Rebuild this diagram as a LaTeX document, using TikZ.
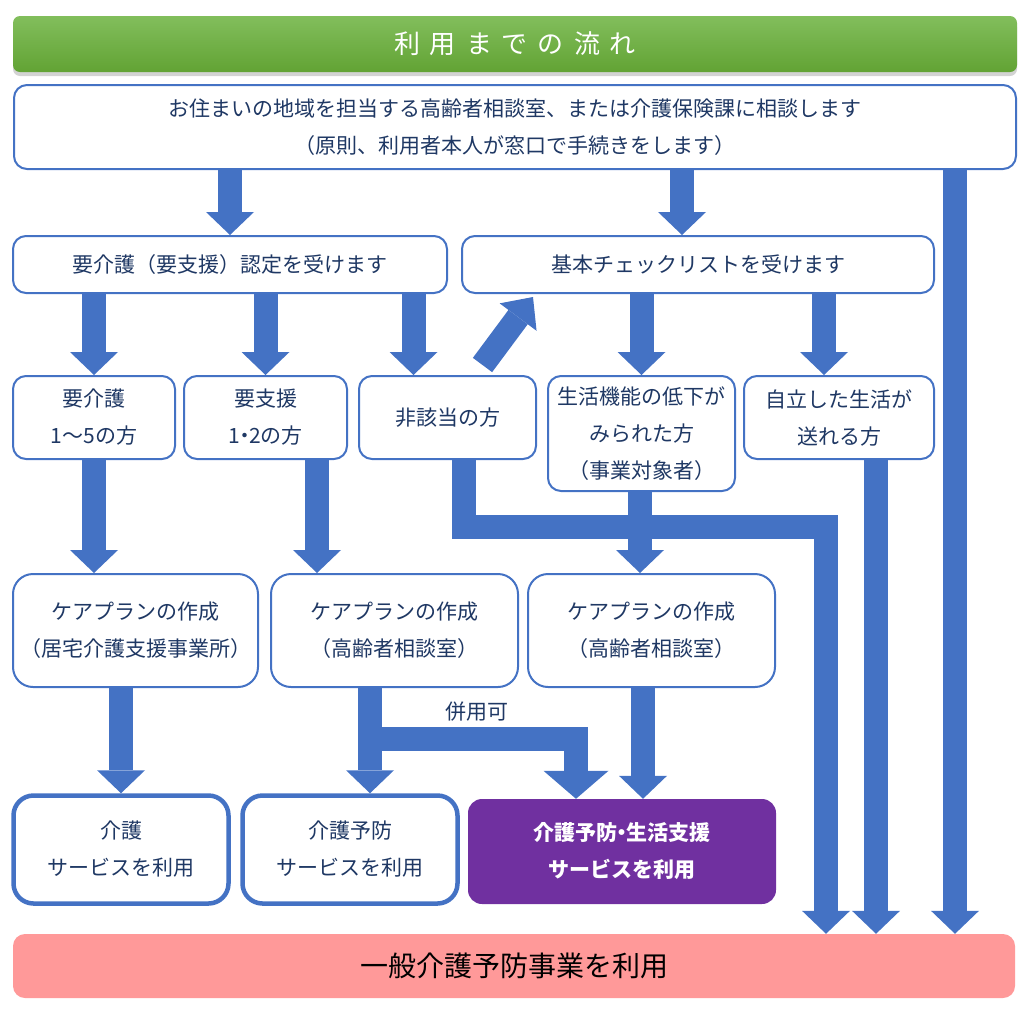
\documentclass[tikz,border=0pt]{standalone}
\usepackage{fontspec}
\setmainfont{Noto Sans CJK JP}
\usepackage{tikz}
\usetikzlibrary{arrows.meta,shadows}
\definecolor{flowblue}{RGB}{68,114,196}
\definecolor{textnavy}{RGB}{31,56,100}
\definecolor{titlegreentop}{RGB}{130,190,92}
\definecolor{titlegreenbot}{RGB}{98,163,52}
\definecolor{servicepurple}{RGB}{112,48,160}
\definecolor{generalpink}{RGB}{255,153,153}
\newcommand{\tgap}{\hspace{10pt}}
\newcommand{\tightdot}{\kern-6pt・\kern-6pt}

\begin{document}
\begin{tikzpicture}[x=1pt,y=-1pt,
  every node/.style={inner sep=0pt,align=center,text=textnavy,font=\fontsize{21}{37}\selectfont},
  titlebar/.style={rounded corners=7pt,top color=titlegreentop,bottom color=titlegreenbot,text=white,
    font=\fontsize{26}{30}\selectfont,drop shadow={shadow xshift=0pt,shadow yshift=-4pt,opacity=.35}},
  flowbox/.style={draw=flowblue,line width=2pt,fill=white,rounded corners=13pt},
  planbox/.style={flowbox,rounded corners=20pt},
  usebox/.style={draw=flowblue,line width=4.5pt,fill=white,rounded corners=20pt},
  bigarrow/.style={draw=flowblue,line width=24pt,-{Triangle[width=48pt,length=23pt,line width=0pt]}}]
  \useasboundingbox (0,0) rectangle (1027,1015);
  \node[titlebar,minimum width=1004pt,minimum height=56pt] (title) at (515,44) {利\tgap 用\tgap ま\tgap で\tgap の\tgap 流\tgap れ};
  \node[flowbox,minimum width=1002pt,minimum height=84pt] (consult) at (515,127) {お住まいの地域を担当する高齢者相談室、または介護保険課に相談します\\（原則、利用者本人が窓口で手続きをします）};
  \node[flowbox,minimum width=434pt,minimum height=57pt] (cert) at (230,264.5) {要介護（要支援）認定を受けます};
  \node[flowbox,minimum width=472pt,minimum height=57pt] (check) at (698,264.5) {基本チェックリストを受けます};
  \node[flowbox,minimum width=162pt,minimum height=83pt] (care) at (94,417.5) {要介護\\1〜5の方};
  \node[flowbox,minimum width=163pt,minimum height=83pt] (support) at (265.5,417.5) {要支援\\1\tightdot 2の方};
  \node[flowbox,minimum width=177pt,minimum height=83pt] (nongai) at (447.5,417.5) {非該当の方};
  \node[flowbox,minimum width=187pt,minimum height=115pt] (decline) at (641.5,433.5) {生活機能の低下が\\みられた方\\（事業対象者）};
  \node[flowbox,minimum width=190pt,minimum height=83pt] (indep) at (839,417.5) {自立した生活が\\送れる方};
  \node[planbox,minimum width=245pt,minimum height=113pt] (planA) at (135.5,630.5) {ケアプランの作成\\（居宅介護支援事業所）};
  \node[planbox,minimum width=247pt,minimum height=113pt] (planB) at (394.5,630.5) {ケアプランの作成\\（高齢者相談室）};
  \node[planbox,minimum width=247pt,minimum height=113pt] (planC) at (651.5,630.5) {ケアプランの作成\\（高齢者相談室）};
  \node[usebox,minimum width=215pt,minimum height=108pt] (useA) at (121,849.5) {介護\\サービスを利用};
  \node[usebox,minimum width=215pt,minimum height=108pt] (useB) at (350,849.5) {介護予防\\サービスを利用};
  \node[fill=servicepurple,rounded corners=14pt,text=white,minimum width=308pt,minimum height=105pt] (useC) at (622,851.5) {\bfseries 介護予防\tightdot 生活支援\\\bfseries サービスを利用};
  \node[fill=generalpink,rounded corners=12pt,text=black,font=\fontsize{28}{32}\selectfont,minimum width=1002pt,minimum height=64pt] (general) at (514,966) {一般介護予防事業を利用};
  \node (both) at (477,712) {併用可};
  \foreach \src/\dst/\dx in {consult/cert/0, consult/check/-16, cert/care/0, cert/support/0, cert/nongai/-34, check/decline/0, check/indep/-15, planA/useA/0, planB/useB/20, planC/useC/21} {
    \draw[bigarrow] ([xshift=\dx pt]\dst.north |- \src.south) -- ([xshift=\dx pt]\dst.north);
  }
  \foreach \src/\dst/\dx in {care/planA/0, support/planB/51.5, decline/planC/-1.5} {
    \draw[bigarrow] ([xshift=\dx pt]\src.south) -- ([xshift=\dx pt]\src.south |- \dst.north);
  }
  \draw[bigarrow,-{Triangle[width=46pt,length=25pt,line width=0pt]}] ([xshift=35pt,yshift=10pt]nongai.north) -- ([xshift=72pt,yshift=-3pt]check.south west);
  \coordinate (split) at (370,739);
  \draw[bigarrow,-{Triangle[width=65pt,length=28pt,line width=0pt]}] (split) -| ([xshift=-46pt]useC.north);
  \coordinate (nongaiturn) at (826,527);
  \draw[bigarrow] ([xshift=16.5pt]nongai.south) |- (nongaiturn) -- (nongaiturn |- general.north);
  \draw[bigarrow] ([xshift=37pt]indep.south) -- ([xshift=37pt]indep.south |- general.north);
  \draw[bigarrow] ([xshift=440pt]consult.south) -- ([xshift=440pt]consult.south |- general.north);
\end{tikzpicture}
\end{document}
